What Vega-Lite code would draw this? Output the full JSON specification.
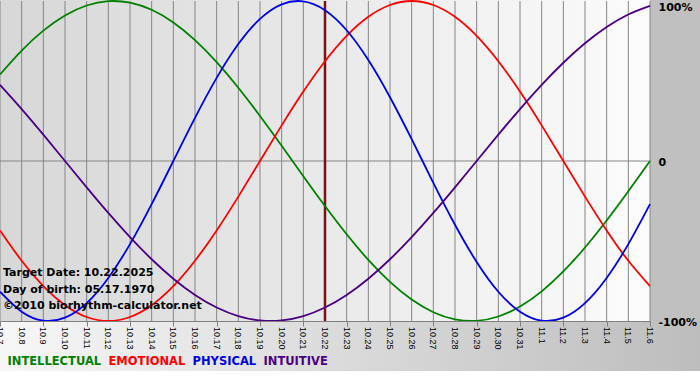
{
  "$schema": "https://vega.github.io/schema/vega-lite/v6.json",
  "autosize": {"type": "none"},
  "width": 650,
  "height": 320,
  "padding": {"left": 0, "top": 1, "right": 50, "bottom": 59},
  "background": "white",
  "config": {
    "view": {"stroke": null},
    "axisX": {"labels": false, "tickCount": 30,
      "tickColor": "#808080", "tickSize": 5, "domainColor": "#808080", "grid": false, "title": null},
    "axisY": {"labelFont": "DejaVu Sans", "labelFontSize": 11, "labelFontWeight": "bold", "labelColor": "black",
      "labelPadding": 8, "labelFlush": false, "labelOverlap": false, "labelBaseline": "middle",
      "ticks": false, "domain": false, "grid": false, "title": null}
  },
  "data": {"values": [
    {"day": 0, "date": "10.7", "INTELLECTUAL": 0.5406, "EMOTIONAL": -0.4339, "PHYSICAL": -0.817, "INTUITIVE": 0.4759},
    {"day": 1, "date": "10.8", "INTELLECTUAL": 0.6901, "EMOTIONAL": -0.6235, "PHYSICAL": -0.9423, "INTUITIVE": 0.3247},
    {"day": 2, "date": "10.9", "INTELLECTUAL": 0.8146, "EMOTIONAL": -0.7818, "PHYSICAL": -0.9977, "INTUITIVE": 0.1646},
    {"day": 3, "date": "10.10", "INTELLECTUAL": 0.9096, "EMOTIONAL": -0.901, "PHYSICAL": -0.9791, "INTUITIVE": 0},
    {"day": 4, "date": "10.11", "INTELLECTUAL": 0.9718, "EMOTIONAL": -0.9749, "PHYSICAL": -0.8879, "INTUITIVE": -0.1646},
    {"day": 5, "date": "10.12", "INTELLECTUAL": 0.9989, "EMOTIONAL": -1, "PHYSICAL": -0.7308, "INTUITIVE": -0.3247},
    {"day": 6, "date": "10.13", "INTELLECTUAL": 0.9898, "EMOTIONAL": -0.9749, "PHYSICAL": -0.5196, "INTUITIVE": -0.4759},
    {"day": 7, "date": "10.14", "INTELLECTUAL": 0.945, "EMOTIONAL": -0.901, "PHYSICAL": -0.2698, "INTUITIVE": -0.6142},
    {"day": 8, "date": "10.15", "INTELLECTUAL": 0.866, "EMOTIONAL": -0.7818, "PHYSICAL": 0, "INTUITIVE": -0.7357},
    {"day": 9, "date": "10.16", "INTELLECTUAL": 0.7557, "EMOTIONAL": -0.6235, "PHYSICAL": 0.2698, "INTUITIVE": -0.8372},
    {"day": 10, "date": "10.17", "INTELLECTUAL": 0.6182, "EMOTIONAL": -0.4339, "PHYSICAL": 0.5196, "INTUITIVE": -0.9158},
    {"day": 11, "date": "10.18", "INTELLECTUAL": 0.4582, "EMOTIONAL": -0.2225, "PHYSICAL": 0.7308, "INTUITIVE": -0.9694},
    {"day": 12, "date": "10.19", "INTELLECTUAL": 0.2817, "EMOTIONAL": 0, "PHYSICAL": 0.8879, "INTUITIVE": -0.9966},
    {"day": 13, "date": "10.20", "INTELLECTUAL": 0.0951, "EMOTIONAL": 0.2225, "PHYSICAL": 0.9791, "INTUITIVE": -0.9966},
    {"day": 14, "date": "10.21", "INTELLECTUAL": -0.0951, "EMOTIONAL": 0.4339, "PHYSICAL": 0.9977, "INTUITIVE": -0.9694},
    {"day": 15, "date": "10.22", "INTELLECTUAL": -0.2817, "EMOTIONAL": 0.6235, "PHYSICAL": 0.9423, "INTUITIVE": -0.9158},
    {"day": 16, "date": "10.23", "INTELLECTUAL": -0.4582, "EMOTIONAL": 0.7818, "PHYSICAL": 0.817, "INTUITIVE": -0.8372},
    {"day": 17, "date": "10.24", "INTELLECTUAL": -0.6182, "EMOTIONAL": 0.901, "PHYSICAL": 0.631, "INTUITIVE": -0.7357},
    {"day": 18, "date": "10.25", "INTELLECTUAL": -0.7557, "EMOTIONAL": 0.9749, "PHYSICAL": 0.3984, "INTUITIVE": -0.6142},
    {"day": 19, "date": "10.26", "INTELLECTUAL": -0.866, "EMOTIONAL": 1, "PHYSICAL": 0.1362, "INTUITIVE": -0.4759},
    {"day": 20, "date": "10.27", "INTELLECTUAL": -0.945, "EMOTIONAL": 0.9749, "PHYSICAL": -0.1362, "INTUITIVE": -0.3247},
    {"day": 21, "date": "10.28", "INTELLECTUAL": -0.9898, "EMOTIONAL": 0.901, "PHYSICAL": -0.3984, "INTUITIVE": -0.1646},
    {"day": 22, "date": "10.29", "INTELLECTUAL": -0.9989, "EMOTIONAL": 0.7818, "PHYSICAL": -0.631, "INTUITIVE": 0},
    {"day": 23, "date": "10.30", "INTELLECTUAL": -0.9718, "EMOTIONAL": 0.6235, "PHYSICAL": -0.817, "INTUITIVE": 0.1646},
    {"day": 24, "date": "10.31", "INTELLECTUAL": -0.9096, "EMOTIONAL": 0.4339, "PHYSICAL": -0.9423, "INTUITIVE": 0.3247},
    {"day": 25, "date": "11.1", "INTELLECTUAL": -0.8146, "EMOTIONAL": 0.2225, "PHYSICAL": -0.9977, "INTUITIVE": 0.4759},
    {"day": 26, "date": "11.2", "INTELLECTUAL": -0.6901, "EMOTIONAL": 0, "PHYSICAL": -0.9791, "INTUITIVE": 0.6142},
    {"day": 27, "date": "11.3", "INTELLECTUAL": -0.5406, "EMOTIONAL": -0.2225, "PHYSICAL": -0.8879, "INTUITIVE": 0.7357},
    {"day": 28, "date": "11.4", "INTELLECTUAL": -0.3717, "EMOTIONAL": -0.4339, "PHYSICAL": -0.7308, "INTUITIVE": 0.8372},
    {"day": 29, "date": "11.5", "INTELLECTUAL": -0.1893, "EMOTIONAL": -0.6235, "PHYSICAL": -0.5196, "INTUITIVE": 0.9158},
    {"day": 30, "date": "11.6", "INTELLECTUAL": 0, "EMOTIONAL": -0.7818, "PHYSICAL": -0.2698, "INTUITIVE": 0.9694}
  ]},
  "layer": [
    {
      "data": {"values": [{}]},
      "mark": {"type": "rect", "clip": false, "fill": {"gradient": "linear", "x1": 0, "y1": 0, "x2": 1, "y2": 0, "stops": [{"offset": 0, "color": "#f7f7f7"}, {"offset": 1, "color": "#bdbdbd"}]}},
      "encoding": {
        "x": {"datum": 0, "type": "quantitative", "scale": {"domain": [0, 30], "nice": false, "zero": false},
          "axis": {
            "values": [0,1,2,3,4,5,6,7,8,9,10,11,12,13,14,15,16,17,18,19,20,21,22,23,24,25,26,27,28,29,30],
            "tickCount": 30, "labels": false, "zindex": 1
          }
        },
        "x2": {"datum": 32.31},
        "y": {"datum": -1, "type": "quantitative", "scale": {"domain": [-1, 1], "nice": false, "zero": false},
          "axis": {
            "orient": "right", "values": [-1, 0, 1],
            "labelExpr": "datum.value == 1 ? '100%' : datum.value == 0 ? '0' : '-100%'",
            "labelOffset": {"condition": {"test": "datum.value == 1", "value": 6}, "value": 1},
            "zindex": 1
          }
        },
        "y2": {"datum": -1.3125}
      }
    },
    {
      "data": {"values": [{}]},
      "mark": {"type": "rect", "clip": false, "fill": "#c0c0c0"},
      "encoding": {
        "x": {"datum": 30, "type": "quantitative"},
        "x2": {"datum": 32.31},
        "y": {"datum": 1.00625, "type": "quantitative"},
        "y2": {"datum": -1}
      }
    },
    {
      "data": {"values": [{}]},
      "mark": {"type": "rect", "clip": false, "fill": {"gradient": "linear", "x1": 0, "y1": 0, "x2": 1, "y2": 0, "stops": [{"offset": 0, "color": "#d7d7d7"}, {"offset": 1, "color": "#fcfcfc"}]}},
      "encoding": {
        "x": {"datum": 0, "type": "quantitative"},
        "x2": {"datum": 30},
        "y": {"datum": 1.00625, "type": "quantitative"},
        "y2": {"datum": -1}
      }
    },
    {
      "mark": {"type": "rule", "color": "#858585", "strokeWidth": 1},
      "encoding": {
        "x": {"field": "day", "type": "quantitative"}
      }
    },
    {
      "mark": {"type": "text", "angle": 90, "align": "left", "baseline": "middle", "dx": 6, "clip": false,
        "font": "Liberation Sans", "fontSize": 9, "color": "black"},
      "encoding": {
        "x": {"field": "day", "type": "quantitative"},
        "y": {"datum": -1, "type": "quantitative"},
        "text": {"field": "date", "type": "nominal"}
      }
    },
    {
      "data": {"values": [{}]},
      "mark": {"type": "rule", "color": "#858585", "strokeWidth": 1},
      "encoding": {
        "y": {"datum": 0, "type": "quantitative"}
      }
    },
    {
      "data": {"values": [{"day": 15, "date": "10.22"}]},
      "mark": {"type": "rule", "color": "#7a1414", "strokeWidth": 2.5},
      "encoding": {
        "x": {"field": "day", "type": "quantitative"}
      }
    },
    {
      "transform": [{"fold": ["INTELLECTUAL", "EMOTIONAL", "PHYSICAL", "INTUITIVE"], "as": ["series", "value"]}],
      "mark": {"type": "line", "interpolate": "natural", "strokeWidth": 1.8},
      "encoding": {
        "x": {"field": "day", "type": "quantitative"},
        "y": {"field": "value", "type": "quantitative"},
        "color": {
          "field": "series", "type": "nominal",
          "scale": {"domain": ["INTELLECTUAL", "EMOTIONAL", "PHYSICAL", "INTUITIVE"], "range": ["#008000", "#ff0000", "#0000e6", "#4b0082"]},
          "legend": {
            "orient": "none", "legendX": -4, "legendY": 355, "direction": "horizontal", "columns": 4,
            "title": null, "symbolSize": 0, "symbolStrokeWidth": 0, "symbolOpacity": 0, "labelOffset": 0,
            "columnPadding": -5, "gridAlign": "none", "padding": 0,
            "labelFont": "DejaVu Sans", "labelFontSize": 11.5, "labelFontWeight": "bold", "zindex": 1,
            "encode": {"labels": {"update": {"fill": {"signal": "scale('color', datum.value)"}}}}
          }
        }
      }
    },
    {
      "data": {"values": [{}]},
      "mark": {"type": "text", "align": "left", "baseline": "alphabetic", "dx": 3, "lineHeight": 16.5,
        "font": "DejaVu Sans", "fontSize": 11, "fontWeight": "bold", "color": "black",
        "text": ["Target Date: 10.22.2025", "Day of birth: 05.17.1970", "©2010 biorhythm-calculator.net"]},
      "encoding": {
        "x": {"datum": 0, "type": "quantitative"},
        "y": {"datum": -0.71875, "type": "quantitative"}
      }
    }
  ]
}
